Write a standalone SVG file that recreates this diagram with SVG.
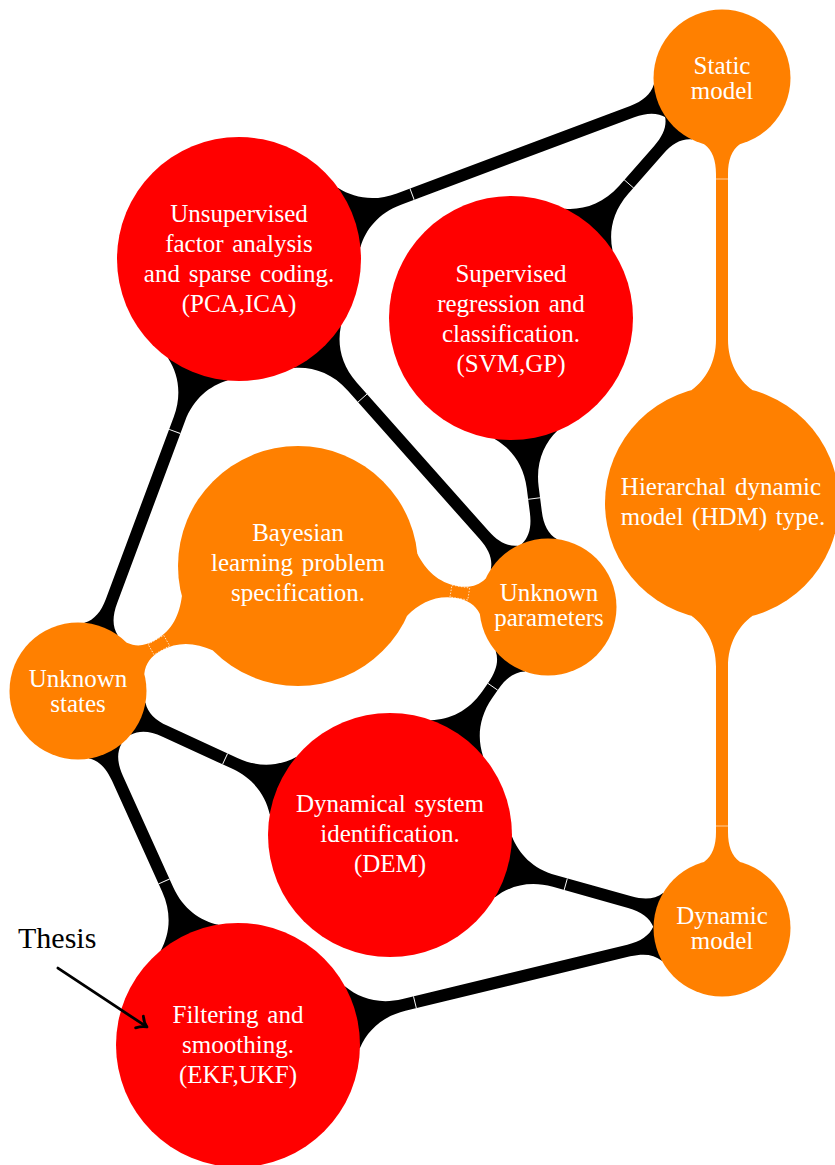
<svg xmlns="http://www.w3.org/2000/svg" width="835" height="1165" viewBox="0 0 835 1165">
<style>
.bar{fill:#000}
.obar{fill:#ff8000}
.red{fill:#ff0000}
.orange{fill:#ff8000}
.tick{stroke:#fff;stroke-width:0.9}
.otick{stroke:#ffe0c0;stroke-width:0.8}
.dash{fill:none;stroke:#fff;stroke-width:0.7;stroke-dasharray:1.5 1.5}
.t{font-family:"Liberation Serif","Times New Roman",serif;font-size:25px;fill:#fff;text-anchor:middle;word-spacing:2.5px}
.lbl{font-family:"Liberation Serif","Times New Roman",serif;font-size:30px;fill:#000}
</style>
<rect width="835" height="1165" fill="#fff"/>
<g id="connectors">
  <g transform="translate(722 78) rotate(159.46)"><path class="bar" d="M0 0L66.17 -17.73C72.34 -9.51 82.2 -6 95.9 -6L345 -6C369.4 -6 386.98 -16.93 397.96 -31.57L515.8 0L397.96 31.57C386.98 16.93 369.4 6 345 6L95.9 6C82.2 6 72.34 9.51 66.17 17.73Z"/><line class="tick" x1="331" y1="-6" x2="331" y2="6"/></g>
  <g transform="translate(722 78) rotate(131.32)"><path class="bar" d="M0 0L66.17 -17.73C72.34 -9.51 82.2 -6 95.9 -6L148.8 -6C173.2 -6 190.78 -16.93 201.76 -31.57L319.6 0L201.76 31.57C190.78 16.93 173.2 6 148.8 6L95.9 6C82.2 6 72.34 9.51 66.17 17.73Z"/><line class="tick" x1="141" y1="-6.5" x2="141" y2="6.5"/></g>
  <g transform="translate(722 78) rotate(90)"><path class="obar" d="M0 0L66.17 -17.73C72.34 -9.51 82.2 -6 95.9 -6L261.2 -6C284.6 -6 301.46 -16.24 311.99 -30.28L425 0L311.99 30.28C301.46 16.24 284.6 6 261.2 6L95.9 6C82.2 6 72.34 9.51 66.17 17.73Z"/><line class="otick" x1="101" y1="-6" x2="101" y2="6"/></g>
  <g transform="translate(722 503) rotate(90)"><path class="obar" d="M0 0L113.01 -30.28C123.54 -16.24 140.4 -6 163.8 -6L329.1 -6C342.8 -6 352.66 -9.51 358.83 -17.73L425 0L358.83 17.73C352.66 9.51 342.8 6 329.1 6L163.8 6C140.4 6 123.54 16.24 113.01 30.28Z"/><line class="otick" x1="323" y1="-6" x2="323" y2="6"/></g>
  <g transform="translate(239 259) rotate(110.44)"><path class="bar" d="M0 0L117.84 -31.57C128.82 -16.93 146.4 -6 170.8 -6L365.1 -6C378.8 -6 388.66 -9.51 394.83 -17.73L461 0L394.83 17.73C388.66 9.51 378.8 6 365.1 6L170.8 6C146.4 6 128.82 16.93 117.84 31.57Z"/><line class="tick" x1="184" y1="-6" x2="184" y2="6"/></g>
  <g transform="translate(239 259) rotate(48.40)"><path class="bar" d="M0 0L117.84 -31.57C128.82 -16.93 146.4 -6 170.8 -6L369.5 -6C383.2 -6 393.06 -9.51 399.23 -17.73L465.4 0L399.23 17.73C393.06 9.51 383.2 6 369.5 6L170.8 6C146.4 6 128.82 16.93 117.84 31.57Z"/><line class="tick" x1="186" y1="-6" x2="186" y2="6"/></g>
  <g transform="translate(511 318) rotate(82.70)"><path class="bar" d="M0 0L117.84 -31.57C128.82 -16.93 146.4 -6 170.8 -6L195.5 -6C209.2 -6 219.06 -9.51 225.23 -17.73L291.4 0L225.23 17.73C219.06 9.51 209.2 6 195.5 6L170.8 6C146.4 6 128.82 16.93 117.84 31.57Z"/><line class="tick" x1="182" y1="-6" x2="182" y2="6"/></g>
  <g transform="translate(298 566) rotate(150.40)"><path class="obar" d="M0 0L115.91 -31.06C126.71 -16.66 140.5 -6 161.05 -6C172.8 -6 180.66 -9.51 186.83 -17.73L253 0L186.83 17.73C180.66 9.51 172.8 6 161.05 6C140.5 6 126.71 16.66 115.91 31.06Z"/><rect class="dash" x="151" y="-6" width="18" height="12"/></g>
  <g transform="translate(298 566) rotate(9.31)"><path class="obar" d="M0 0L115.91 -31.06C126.71 -16.66 140.6 -6 161.25 -6C173 -6 180.96 -9.51 187.13 -17.73L253.3 0L187.13 17.73C180.96 9.51 173 6 161.25 6C140.6 6 126.71 16.66 115.91 31.06Z"/><rect class="dash" x="155" y="-6" width="18" height="12"/></g>
  <g transform="translate(78 691) rotate(24.78)"><path class="bar" d="M0 0L66.17 -17.73C72.34 -9.51 82.2 -6 95.9 -6L172.8 -6C197.2 -6 214.78 -16.93 225.76 -31.57L343.6 0L225.76 31.57C214.78 16.93 197.2 6 172.8 6L95.9 6C82.2 6 72.34 9.51 66.17 17.73Z"/><line class="tick" x1="162" y1="-6" x2="162" y2="6"/></g>
  <g transform="translate(78 691) rotate(65.68)"><path class="bar" d="M0 0L66.17 -17.73C72.34 -9.51 82.2 -6 95.9 -6L217.7 -6C242.1 -6 259.68 -16.93 270.66 -31.57L388.5 0L270.66 31.57C259.68 16.93 242.1 6 217.7 6L95.9 6C82.2 6 72.34 9.51 66.17 17.73Z"/><line class="tick" x1="209" y1="-6" x2="209" y2="6"/></g>
  <g transform="translate(548 607) rotate(124.72)"><path class="bar" d="M0 0L66.17 -17.73C72.34 -9.51 82.2 -6 95.9 -6L106.6 -6C131 -6 148.58 -16.93 159.56 -31.57L277.4 0L159.56 31.57C148.58 16.93 131 6 106.6 6L95.9 6C82.2 6 72.34 9.51 66.17 17.73Z"/><line class="tick" x1="97" y1="-6" x2="97" y2="6"/></g>
  <g transform="translate(390 835) rotate(15.65)"><path class="bar" d="M0 0L117.84 -31.57C128.82 -16.93 146.4 -6 170.8 -6L248.9 -6C262.6 -6 272.46 -9.51 278.63 -17.73L344.8 0L278.63 17.73C272.46 9.51 262.6 6 248.9 6L170.8 6C146.4 6 128.82 16.93 117.84 31.57Z"/><line class="tick" x1="182.5" y1="-6" x2="182.5" y2="6"/></g>
  <g transform="translate(238 1045) rotate(-13.59)"><path class="bar" d="M0 0L117.84 -31.57C128.82 -16.93 146.4 -6 170.8 -6L402 -6C415.7 -6 425.56 -9.51 431.73 -17.73L497.9 0L431.73 17.73C425.56 9.51 415.7 6 402 6L170.8 6C146.4 6 128.82 16.93 117.84 31.57Z"/><line class="tick" x1="182" y1="-6" x2="182" y2="6"/></g>
</g>
<g id="static"><circle class="orange" cx="722" cy="78" r="68.5"/><text class="t" x="722" y="74">Static</text><text class="t" x="722" y="99">model</text></g>
<g id="unsupervised"><circle class="red" cx="239" cy="259" r="122"/><text class="t" x="239" y="222">Unsupervised</text><text class="t" x="239" y="252">factor analysis</text><text class="t" x="239" y="282">and sparse coding.</text><text class="t" x="239" y="312">(PCA,ICA)</text></g>
<g id="supervised"><circle class="red" cx="511" cy="318" r="122"/><text class="t" x="511" y="282">Supervised</text><text class="t" x="511" y="312">regression and</text><text class="t" x="511" y="342">classification.</text><text class="t" x="511" y="372">(SVM,GP)</text></g>
<g id="hdm"><circle class="orange" cx="722" cy="503" r="117"/><text class="t" x="721" y="495">Hierarchal dynamic</text><text class="t" x="723" y="525">model (HDM) type.</text></g>
<g id="bayesian"><circle class="orange" cx="298" cy="566" r="120"/><text class="t" x="298" y="541">Bayesian</text><text class="t" x="298" y="571">learning problem</text><text class="t" x="298" y="601">specification.</text></g>
<g id="params"><circle class="orange" cx="548" cy="607" r="68.5"/><text class="t" x="549" y="601">Unknown</text><text class="t" x="549" y="626">parameters</text></g>
<g id="states"><circle class="orange" cx="78" cy="691" r="68.5"/><text class="t" x="78" y="687">Unknown</text><text class="t" x="78" y="712">states</text></g>
<g id="dynsys"><circle class="red" cx="390" cy="835" r="122"/><text class="t" x="390" y="812">Dynamical system</text><text class="t" x="390" y="842">identification.</text><text class="t" x="390" y="872">(DEM)</text></g>
<g id="dynmodel"><circle class="orange" cx="722" cy="928" r="68.5"/><text class="t" x="722" y="924">Dynamic</text><text class="t" x="722" y="949">model</text></g>
<g id="filtering"><circle class="red" cx="238" cy="1045" r="122"/><text class="t" x="238" y="1023">Filtering and</text><text class="t" x="238" y="1053">smoothing.</text><text class="t" x="238" y="1083">(EKF,UKF)</text></g>
<g id="thesis">
  <text class="lbl" x="18" y="948">Thesis</text>
  <g transform="translate(147 1027) rotate(33.5)" fill="none" stroke="#000" stroke-width="2.8" stroke-linecap="round">
    <line x1="-106.8" y1="0" x2="-1" y2="0"/>
    <path d="M-9 -7C-6 -3.2 -2.5 -0.9 0 0C-2.5 0.9 -6 3.2 -9 7" stroke-linejoin="round"/>
  </g>
</g>
</svg>
